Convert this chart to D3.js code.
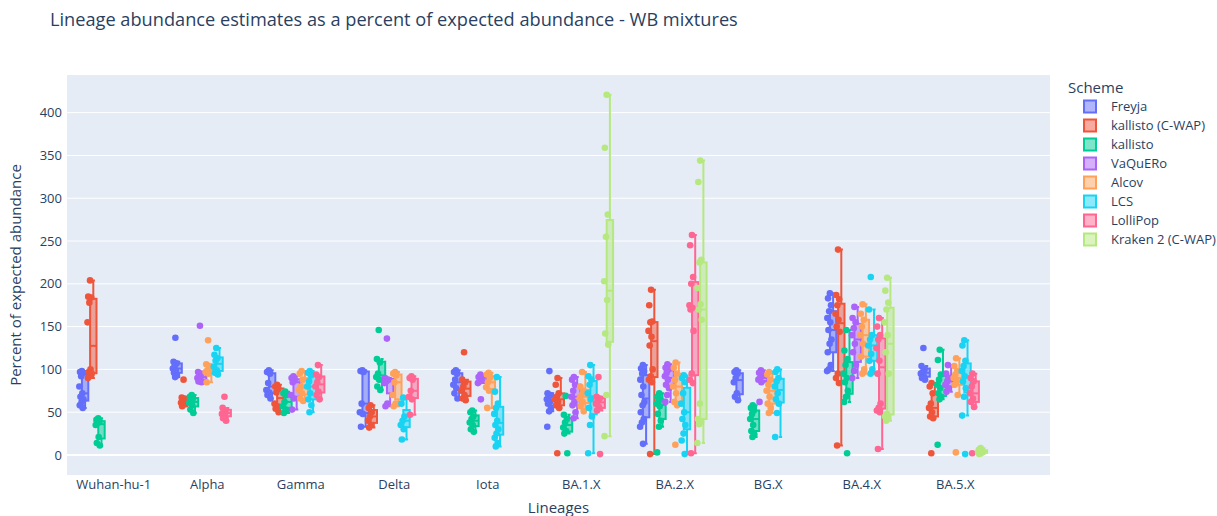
<!DOCTYPE html>
<html>
<head>
<meta charset="utf-8">
<script src="https://cdn.jsdelivr.net/npm/d3@7"></script>
<style>
  html, body { margin: 0; padding: 0; background: #fff; }
  svg { display: block; font-family: "Open Sans", Verdana, Arial, sans-serif; }
</style>
</head>
<body>
<svg id="chart" width="1217" height="516"></svg>
<script>
// Lineage categories on the x axis
const categories = ["Wuhan-hu-1", "Alpha", "Gamma", "Delta", "Iota", "BA.1.X", "BA.2.X", "BG.X", "BA.4.X", "BA.5.X"];

// Classification schemes (legend order) and their colours
const schemes = ["Freyja", "kallisto (C-WAP)", "kallisto", "VaQuERo", "Alcov", "LCS", "LolliPop", "Kraken 2 (C-WAP)"];
const schemeColors = ["#636efa", "#EF553B", "#00cc96", "#ab63fa", "#FFA15A", "#19d3f3", "#FF6692", "#B6E880"];

const yTicks = [0, 50, 100, 150, 200, 250, 300, 350, 400];

// Percent of expected abundance, one list per lineage (empty = not reported)
const freyja = [
  [98, 97, 96, 92, 80, 72, 68, 65, 62, 58, 55],
  [137, 109, 107, 104, 101, 99, 96, 93, 91],
  [99, 97, 95, 84, 76, 73, 70, 66],
  [99, 98, 97, 60, 50, 48, 33],
  [99, 97, 95, 88, 82, 78, 72, 66],
  [98, 72, 70, 68, 65, 62, 60, 55, 51, 33],
  [105, 101, 98, 95, 88, 80, 70, 62, 58, 50, 42, 38, 33, 13],
  [99, 97, 95, 90, 85, 72, 68, 64],
  [189, 183, 175, 168, 160, 155, 146, 135, 130, 120, 105, 100, 98],
  [125, 104, 100, 97, 95, 92, 90, 88]
];
const kallistoCwap = [
  [204, 185, 184, 178, 155, 100, 97, 95, 92, 90],
  [88, 67, 66, 63, 61, 59, 57],
  [82, 80, 77, 73, 60, 57, 54, 50],
  [58, 55, 50, 45, 40, 35, 32],
  [120, 88, 85, 80, 75, 70, 66, 64],
  [90, 82, 72, 68, 65, 62, 58, 55, 2],
  [193, 175, 156, 155, 145, 138, 128, 100, 92, 88, 85, 1],
  [],
  [240, 187, 182, 175, 165, 158, 150, 144, 95, 90, 84, 11],
  [84, 80, 72, 60, 55, 50, 45, 43, 2]
];
const kallisto = [
  [43, 41, 39, 37, 35, 21, 14, 11],
  [70, 68, 66, 63, 61, 58, 53, 49],
  [74, 72, 70, 62, 57, 53, 49],
  [146, 112, 108, 95, 91, 88, 80, 76],
  [52, 50, 45, 42, 38, 35, 30, 27],
  [69, 47, 42, 38, 32, 28, 25, 2],
  [72, 68, 65, 63, 60, 57, 48, 40, 33, 3],
  [58, 55, 52, 48, 42, 35, 28, 24, 21],
  [146, 122, 112, 105, 95, 90, 85, 75, 68, 62, 2],
  [123, 111, 94, 88, 82, 78, 72, 68, 65, 12]
];
const vaquero = [
  [],
  [151, 97, 95, 92, 90, 88, 86, 85],
  [92, 90, 87, 85, 70, 66, 53],
  [136, 90, 88, 86, 84, 60, 57],
  [94, 91, 88, 86, 84, 65],
  [91, 88, 82, 75, 68, 62, 58, 50, 43],
  [106, 102, 100, 96, 92, 88, 82, 78, 70, 62],
  [99, 96, 94, 90, 88, 85, 62],
  [173, 160, 155, 148, 140, 130, 120, 105, 98, 90],
  [105, 95, 90, 86, 82, 78, 74]
];
const alcov = [
  [],
  [134, 106, 104, 99, 97, 95, 85],
  [98, 95, 88, 80, 76, 72, 66, 63],
  [97, 95, 93, 85, 70, 60, 57],
  [96, 94, 90, 85, 79, 75, 55],
  [97, 80, 75, 70, 66, 62, 57, 51],
  [108, 102, 95, 88, 80, 72, 62, 58, 12],
  [97, 94, 88, 82, 75, 68, 60, 55, 49],
  [176, 165, 158, 150, 140, 130, 115, 100, 95],
  [113, 104, 98, 94, 90, 86, 82, 70, 3]
];
const lcs = [
  [],
  [125, 117, 113, 110, 103, 99, 96, 94],
  [98, 96, 93, 86, 80, 72, 65, 58, 50],
  [67, 60, 45, 40, 35, 30, 18],
  [91, 74, 60, 55, 48, 40, 35, 30, 25, 20, 14, 10],
  [105, 92, 88, 82, 72, 65, 55, 45, 35, 2],
  [93, 90, 85, 72, 60, 50, 42, 35, 25, 17, 1],
  [100, 97, 90, 86, 80, 72, 65, 60, 49, 21],
  [208, 170, 140, 135, 128, 118, 110, 100, 95],
  [134, 128, 110, 104, 98, 92, 86, 78, 68, 46, 1]
];
const lollipop = [
  [],
  [68, 55, 52, 50, 48, 46, 43, 40],
  [105, 94, 91, 85, 80, 74, 70, 65],
  [92, 90, 88, 75, 68, 65, 47],
  [],
  [91, 68, 66, 63, 60, 56, 52, 1],
  [257, 245, 208, 200, 175, 172, 170, 145, 95, 88, 84, 2],
  [],
  [160, 150, 140, 135, 125, 110, 95, 60, 55, 52, 50, 7],
  [95, 90, 86, 80, 72, 66, 62, 56, 2]
];
const kraken = [
  [],
  [],
  [],
  [],
  [],
  [421, 359, 281, 255, 203, 181, 142, 129, 70, 22],
  [344, 319, 228, 225, 195, 176, 170, 158, 60, 42, 39, 36, 14],
  [],
  [207, 192, 178, 170, 155, 140, 120, 95, 48, 45, 43, 40],
  [8, 6, 5, 4, 3, 2, 1]
];

const seriesValues = [freyja, kallistoCwap, kallisto, vaquero, alcov, lcs, lollipop, kraken];

// ---- layout ----
const svg = d3.select("#chart");
const plot = { left: 67, right: 1050, top: 75, bottom: 475 };
const fontStack = "'Open Sans', Verdana, Arial, sans-serif";

const x = d3.scaleBand()
  .domain(categories)
  .range([plot.left, plot.left + 935]);
const bw = x.bandwidth();
const slot = bw * 0.7 / schemes.length;     // width given to each scheme inside a lineage
const slotOffset = k => (k - (schemes.length - 1) / 2) * slot;

const y = d3.scaleLinear()
  .domain([-23.4, 444])
  .range([plot.bottom, plot.top]);

const textColor = "#2a3f5f";

// background
svg.append("rect")
  .attr("x", plot.left).attr("y", plot.top)
  .attr("width", plot.right - plot.left).attr("height", plot.bottom - plot.top)
  .attr("fill", "#E5ECF6");

// horizontal grid
svg.append("g").selectAll("line")
  .data(yTicks)
  .join("line")
  .attr("x1", plot.left).attr("x2", plot.right)
  .attr("y1", d => y(d)).attr("y2", d => y(d))
  .attr("stroke", "#fff")
  .attr("stroke-width", d => d === 0 ? 2 : 1);

// y axis labels
const yAxis = d3.axisLeft(y).tickValues(yTicks).tickSize(0).tickPadding(4);
svg.append("g")
  .attr("transform", `translate(${plot.left - 1},0)`)
  .call(yAxis)
  .call(g => g.select(".domain").remove())
  .call(g => g.selectAll("text")
    .attr("fill", textColor)
    .style("font-size", "13px")
    .style("font-family", fontStack));

// x axis labels
const xAxis = d3.axisBottom(x).tickSize(0).tickPadding(5);
svg.append("g")
  .attr("transform", `translate(0,${plot.bottom})`)
  .call(xAxis)
  .call(g => g.select(".domain").remove())
  .call(g => g.selectAll("text")
    .attr("fill", textColor)
    .style("font-size", "13px")
    .style("font-family", fontStack));

// axis titles
svg.append("text")
  .attr("x", (plot.left + plot.right) / 2).attr("y", 513)
  .attr("text-anchor", "middle")
  .attr("fill", textColor)
  .style("font-size", "15px")
  .text("Lineages");

svg.append("text")
  .attr("transform", `translate(21,${(plot.top + plot.bottom) / 2}) rotate(-90)`)
  .attr("text-anchor", "middle")
  .attr("fill", textColor)
  .style("font-size", "15px")
  .text("Percent of expected abundance");

// title
svg.append("text")
  .attr("x", 50).attr("y", 26)
  .attr("fill", textColor)
  .style("font-size", "18.2px")
  .text("Lineage abundance estimates as a percent of expected abundance - WB mixtures");

// ---- boxes with all sample points ----
function boxStats(values) {
  const v = values.slice().sort(d3.ascending);
  const q1 = d3.quantileSorted(v, 0.25);
  const med = d3.quantileSorted(v, 0.5);
  const q3 = d3.quantileSorted(v, 0.75);
  const iqr = q3 - q1;
  const lo = d3.min(v.filter(d => d >= q1 - 1.5 * iqr));
  const hi = d3.max(v.filter(d => d <= q3 + 1.5 * iqr));
  return { q1, med, q3, lo, hi };
}

const boxHalf = 3.2;     // half width of each box
const pointShift = -3.8; // points sit on the left side of their box
const jitterHalf = 2.4;

const layer = svg.append("g");
schemes.forEach((name, k) => {
  const color = schemeColors[k];
  const g = layer.append("g").attr("class", "trace");
  categories.forEach((cat, ci) => {
    const vals = seriesValues[k][ci];
    if (!vals || vals.length === 0) return;
    const cx = x(cat) + bw / 2 + slotOffset(k);
    const s = boxStats(vals);

    // whiskers with small caps
    const cap = boxHalf * 0.5;
    g.append("path")
      .attr("d",
        `M${cx - cap},${y(s.hi)}H${cx + cap}M${cx},${y(s.hi)}V${y(s.q3)}` +
        `M${cx - cap},${y(s.lo)}H${cx + cap}M${cx},${y(s.lo)}V${y(s.q1)}`)
      .attr("fill", "none")
      .attr("stroke", color)
      .attr("stroke-width", 2);

    // box body
    g.append("rect")
      .attr("x", cx - boxHalf)
      .attr("y", y(s.q3))
      .attr("width", boxHalf * 2)
      .attr("height", Math.max(0.5, y(s.q1) - y(s.q3)))
      .attr("fill", color)
      .attr("fill-opacity", 0.5)
      .attr("stroke", color)
      .attr("stroke-width", 2);

    // median
    g.append("line")
      .attr("x1", cx - boxHalf).attr("x2", cx + boxHalf)
      .attr("y1", y(s.med)).attr("y2", y(s.med))
      .attr("stroke", color)
      .attr("stroke-width", 2);

    // sample points, spread sideways in a fixed low-discrepancy pattern
    g.selectAll(null)
      .data(vals)
      .join("circle")
      .attr("cx", (d, i) => cx + pointShift + (((i + 1) * 0.618034) % 1 - 0.5) * 2 * jitterHalf)
      .attr("cy", d => y(d))
      .attr("r", 3.3)
      .attr("fill", color);
  });
});

// ---- legend ----
const legend = svg.append("g");
legend.append("text")
  .attr("x", 1068).attr("y", 93)
  .attr("fill", textColor)
  .style("font-size", "15px")
  .text("Scheme");

const items = legend.selectAll("g.item")
  .data(schemes)
  .join("g")
  .attr("class", "item")
  .attr("transform", (d, i) => `translate(1084,${106.5 + i * 19})`);

items.append("rect")
  .attr("x", 0).attr("y", -6)
  .attr("width", 12).attr("height", 12)
  .attr("fill", (d, i) => schemeColors[i])
  .attr("fill-opacity", 0.5)
  .attr("stroke", (d, i) => schemeColors[i])
  .attr("stroke-width", 2);

items.append("text")
  .attr("x", 27).attr("y", 4.5)
  .attr("fill", textColor)
  .style("font-size", "13px")
  .text(d => d);
</script>
</body>
</html>
